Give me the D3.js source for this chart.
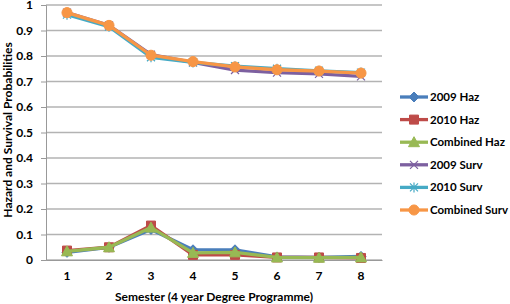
<!DOCTYPE html>
<html lang="en">
  <head>
    <meta charset="utf-8" />
    <title>Hazard and Survival Probabilities</title>
    <script src="https://cdnjs.cloudflare.com/ajax/libs/d3/7.8.5/d3.min.js"></script>
    <style type="text/css">
      body { margin: 0; background: #fff; }
      text { font-family: Lato, "Open Sans", sans-serif; fill: #000; }
      .tick text { font-size: 12px; font-weight: bold; }
      .title { font-size: 12px; font-weight: bold; }
      .legend text { font-size: 11.5px; font-weight: bold; }
    </style>
  </head>
  <body>
    <div id="chart"></div>
    <script>
      // Data
      const semesters = ['1', '2', '3', '4', '5', '6', '7', '8'];
      const haz2009 = [0.03, 0.05, 0.12, 0.04, 0.04, 0.012, 0.01, 0.014];
      const haz2010 = [0.037, 0.05, 0.135, 0.02, 0.02, 0.01, 0.01, 0.008];
      const hazComb = [0.034, 0.05, 0.127, 0.028, 0.03, 0.01, 0.009, 0.01];
      const surv2009 = [0.97, 0.92, 0.805, 0.775, 0.745, 0.735, 0.73, 0.72];
      const surv2010 = [0.962, 0.915, 0.795, 0.775, 0.76, 0.75, 0.742, 0.735];
      const survComb = [0.97, 0.92, 0.803, 0.778, 0.757, 0.746, 0.741, 0.733];
      const yTicks = [0, 0.1, 0.2, 0.3, 0.4, 0.5, 0.6, 0.7, 0.8, 0.9, 1];

      const seriesNames = ['2009 Haz', '2010 Haz', 'Combined Haz', '2009 Surv', '2010 Surv', 'Combined Surv'];
      const seriesValues = [haz2009, haz2010, hazComb, surv2009, surv2010, survComb];
      const colors = ['#4A7EBB', '#BE4B48', '#98B954', '#7D60A0', '#46AAC5', '#F79646'];
      const markers = ['diamond', 'square', 'triangle', 'x', 'star', 'circle'];

      const width = 510;
      const height = 304;
      const margin = { top: 5, right: 128, bottom: 44, left: 46 };
      const innerWidth = width - margin.left - margin.right;
      const innerHeight = height - margin.top - margin.bottom;

      const svg = d3.select('#chart').append('svg')
        .attr('width', width)
        .attr('height', height);

      const g = svg.append('g')
        .attr('transform', `translate(${margin.left},${margin.top})`);

      const x = d3.scaleBand().domain(semesters).range([0, innerWidth]);
      const y = d3.scaleLinear().domain([0, 1]).range([innerHeight, 0]);

      // Gridlines
      g.append('g')
        .selectAll('line')
        .data(yTicks)
        .join('line')
        .attr('x1', 0)
        .attr('x2', innerWidth)
        .attr('y1', d => y(d))
        .attr('y2', d => y(d))
        .attr('stroke', '#b3b3b3')
        .attr('stroke-width', 1.3);

      // Y axis
      const yAxis = d3.axisLeft(y).tickValues(yTicks).tickFormat(d3.format('')).tickSize(5).tickPadding(8);
      const yG = g.append('g').call(yAxis);
      yG.select('.domain').attr('stroke', '#999');
      yG.selectAll('.tick line').attr('stroke', '#999');

      // X axis
      const xAxis = d3.axisBottom(x).tickSize(0).tickPadding(11);
      const xG = g.append('g')
        .attr('transform', `translate(0,${innerHeight})`)
        .call(xAxis);
      xG.select('.domain').attr('stroke', '#999');

      // Marker shapes
      function markerPath(type) {
        switch (type) {
          case 'diamond': return 'M0,-5L5,0L0,5L-5,0Z';
          case 'square': return 'M-4.5,-4.5H4.5V4.5H-4.5Z';
          case 'triangle': return 'M0,-5.5L5.5,4.5H-5.5Z';
          case 'x': return 'M-4,-4L4,4M-4,4L4,-4';
          case 'star': return 'M-4,-4L4,4M-4,4L4,-4M0,-5V5';
          default: return d3.symbol(d3.symbolCircle, 80)();
        }
      }

      function drawMarker(sel, type, color) {
        const open = type === 'x' || type === 'star';
        sel.append('path')
          .attr('d', markerPath(type))
          .attr('fill', open ? 'none' : color)
          .attr('stroke', color)
          .attr('stroke-width', open ? 1.2 : 1);
      }

      const line = d3.line()
        .x((d, i) => x(semesters[i]) + x.bandwidth() / 2)
        .y(d => y(d));

      seriesValues.forEach((vals, s) => {
        g.append('path')
          .datum(vals)
          .attr('fill', 'none')
          .attr('stroke', colors[s])
          .attr('stroke-width', 3.3)
          .attr('stroke-linejoin', 'round')
          .attr('d', line);

        vals.forEach((v, i) => {
          const m = g.append('g')
            .attr('transform', `translate(${x(semesters[i]) + x.bandwidth() / 2},${y(v)})`);
          drawMarker(m, markers[s], colors[s]);
        });
      });

      // Axis titles
      svg.append('text')
        .attr('class', 'title')
        .attr('transform', `translate(8,130) rotate(-90)`)
        .attr('text-anchor', 'middle')
        .attr('dy', '0.35em')
        .text('Hazard and Survival Probabilities');

      svg.append('text')
        .attr('class', 'title')
        .attr('x', 214)
        .attr('y', 301)
        .attr('text-anchor', 'middle')
        .text('Semester (4 year Degree Programme)');

      // Legend
      const legend = svg.append('g').attr('class', 'legend');
      seriesNames.forEach((name, s) => {
        const ly = 97 + s * 22.6;
        const item = legend.append('g').attr('transform', `translate(400,${ly})`);
        item.append('line')
          .attr('x1', 0).attr('x2', 28)
          .attr('stroke', colors[s])
          .attr('stroke-width', 3.3);
        const m = item.append('g').attr('transform', 'translate(14,0)');
        drawMarker(m, markers[s], colors[s]);
        item.append('text')
          .attr('x', 30)
          .attr('dy', '0.35em')
          .text(name);
      });
    </script>
  </body>
</html>
